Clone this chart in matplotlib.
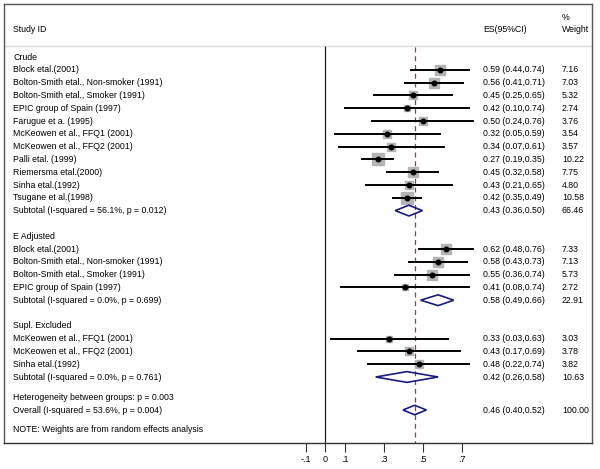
import matplotlib
matplotlib.use("Agg")
import matplotlib.pyplot as plt
import numpy as np
from matplotlib.transforms import blended_transform_factory
from matplotlib.patches import Polygon

plt.rcParams['font.family'] = ['Liberation Sans', 'DejaVu Sans']

# ---------------- data ----------------
crude_labels = ["Block etal.(2001)", "Bolton-Smith etal., Non-smoker (1991)",
                "Bolton-Smith etal., Smoker (1991)", "EPIC group of Spain (1997)",
                "Farugue et a. (1995)", "McKeowen et al., FFQ1 (2001)",
                "McKeowen et al., FFQ2 (2001)", "Palli etal. (1999)",
                "Riemersma etal.(2000)", "Sinha etal.(1992)", "Tsugane et al.(1998)"]
crude_es = [0.59, 0.56, 0.45, 0.42, 0.50, 0.32, 0.34, 0.27, 0.45, 0.43, 0.42]
crude_lo = [0.44, 0.41, 0.25, 0.10, 0.24, 0.05, 0.07, 0.19, 0.32, 0.21, 0.35]
crude_hi = [0.74, 0.71, 0.65, 0.74, 0.76, 0.59, 0.61, 0.35, 0.58, 0.65, 0.49]
crude_w = [7.16, 7.03, 5.32, 2.74, 3.76, 3.54, 3.57, 10.22, 7.75, 4.80, 10.58]
crude_sub = (0.43, 0.36, 0.50, 66.46, "Subtotal (I-squared = 56.1%, p = 0.012)")

adj_labels = ["Block etal.(2001)", "Bolton-Smith etal., Non-smoker (1991)",
              "Bolton-Smith etal., Smoker (1991)", "EPIC group of Spain (1997)"]
adj_es = [0.62, 0.58, 0.55, 0.41]
adj_lo = [0.48, 0.43, 0.36, 0.08]
adj_hi = [0.76, 0.73, 0.74, 0.74]
adj_w = [7.33, 7.13, 5.73, 2.72]
adj_sub = (0.58, 0.49, 0.66, 22.91, "Subtotal (I-squared = 0.0%, p = 0.699)")

supl_labels = ["McKeowen et al., FFQ1 (2001)", "McKeowen et al., FFQ2 (2001)",
               "Sinha etal.(1992)"]
supl_es = [0.33, 0.43, 0.48]
supl_lo = [0.03, 0.17, 0.22]
supl_hi = [0.63, 0.69, 0.74]
supl_w = [3.03, 3.78, 3.82]
supl_sub = (0.42, 0.26, 0.58, 10.63, "Subtotal (I-squared = 0.0%, p = 0.761)")

group_names = ["Crude", "E Adjusted", "Supl. Excluded"]
overall = (0.46, 0.40, 0.52, 100.00, "Overall (I-squared = 53.6%, p = 0.004)")
hetero_text = "Heterogeneity between groups: p = 0.003"
note_text = "NOTE: Weights are from random effects analysis"
xticks = [-0.1, 0, 0.1, 0.3, 0.5, 0.7]
xtick_labels = ["-.1", "0", ".1", ".3", ".5", ".7"]

# ---------------- layout ----------------
W, H = 600, 469
fig = plt.figure(figsize=(W / 100, H / 100), dpi=100)
left_px, right_px, top_px, bot_px = 4, 592, 4, 443
ax = fig.add_axes([left_px / W, (H - bot_px) / H, (right_px - left_px) / W, (bot_px - top_px) / H])

zero_px, unit_px = 325, 195.0
row0_px, row_px = 57, 12.8
ax.set_xlim((left_px - zero_px) / unit_px, (right_px - zero_px) / unit_px)
ax.set_ylim((bot_px - row0_px) / row_px, (top_px - row0_px) / row_px)

frame_col = "#555555"
for s in ax.spines.values():
    s.set_color(frame_col)
    s.set_linewidth(1.0)
ax.spines['bottom'].set_color("#333333")
ax.set_yticks([])
ax.set_xticks(xticks)
ax.set_xticklabels(xtick_labels, fontsize=6.5)
ax.tick_params(axis='x', direction='out', length=6.5, width=0.8, color="#333333", pad=2)

tx = blended_transform_factory(ax.transAxes, ax.transData)
def axfrac(px):
    return (px - left_px) / (right_px - left_px)

fs = 6.3
label_x = axfrac(13)
es_x = axfrac(483)
w_x = axfrac(562)

# header
header_row = (29 - row0_px) / row_px
ax.text(label_x, header_row, "Study ID", transform=tx, fontsize=fs, va='center')
ax.text(es_x, header_row, "ES(95%CI)", transform=tx, fontsize=fs, va='center')
ax.text(w_x, header_row, "Weight", transform=tx, fontsize=fs, va='center')
ax.text(w_x, (17 - row0_px) / row_px, "%", transform=tx, fontsize=fs, va='center')
sep_row = (46 - row0_px) / row_px
ax.axhline(sep_row, color="#dddddd", lw=1.0)

ylo = ax.get_ylim()[0]
ax.vlines(0, sep_row, ylo, color="#222222", lw=0.9)
ax.vlines(overall[0], sep_row + 0.1, ylo, color="#b03040", lw=0.9, linestyles=(0, (4, 3)))

def es_str(e, l, h):
    return f"{e:.2f} ({l:.2f},{h:.2f})"

def draw_study(r, lab, e, l, h, w):
    ax.text(label_x, r, lab, transform=tx, fontsize=fs, va='center')
    side_px = 3.8 * np.sqrt(w)
    ax.plot([e], [r], marker='s', ms=side_px * 0.72, color="#b4b4b4", mec="#b4b4b4", zorder=2)
    ax.plot([l, h], [r, r], color="black", lw=1.4, zorder=3)
    ax.plot([e], [r], marker='o', ms=3.3, color="black", zorder=4)
    ax.text(es_x, r, es_str(e, l, h), transform=tx, fontsize=fs, va='center')
    ax.text(w_x, r, f"{w:.2f}", transform=tx, fontsize=fs, va='center')

def draw_diamond(r, e, l, h, w, lab, hh=0.42):
    ax.text(label_x, r, lab, transform=tx, fontsize=fs, va='center')
    poly = Polygon([[l, r], [e, r - hh], [h, r], [e, r + hh]], closed=True,
                   fill=False, edgecolor="#1a1a80", lw=1.2, zorder=4)
    ax.add_patch(poly)
    ax.text(es_x, r, es_str(e, l, h), transform=tx, fontsize=fs, va='center')
    ax.text(w_x, r, f"{w:.2f}", transform=tx, fontsize=fs, va='center')

groups = [
    (crude_labels, crude_es, crude_lo, crude_hi, crude_w, crude_sub),
    (adj_labels, adj_es, adj_lo, adj_hi, adj_w, adj_sub),
    (supl_labels, supl_es, supl_lo, supl_hi, supl_w, supl_sub),
]
r = 0
for name, (labs, es, lo, hi, ws, sub) in zip(group_names, groups):
    ax.text(label_x, r, name, transform=tx, fontsize=fs, va='center')
    r += 1
    for lab, e, l, h, w in zip(labs, es, lo, hi, ws):
        draw_study(r, lab, e, l, h, w)
        r += 1
    draw_diamond(r, sub[0], sub[1], sub[2], sub[3], sub[4])
    r += 2

r_het = (397 - row0_px) / row_px
r_over = (410 - row0_px) / row_px
r_note = (429 - row0_px) / row_px
ax.text(label_x, r_het, hetero_text, transform=tx, fontsize=fs, va='center')
draw_diamond(r_over, overall[0], overall[1], overall[2], overall[3], overall[4], hh=0.37)
ax.text(label_x, r_note, note_text, transform=tx, fontsize=fs, va='center')

fig.savefig("out.png", dpi=100)
